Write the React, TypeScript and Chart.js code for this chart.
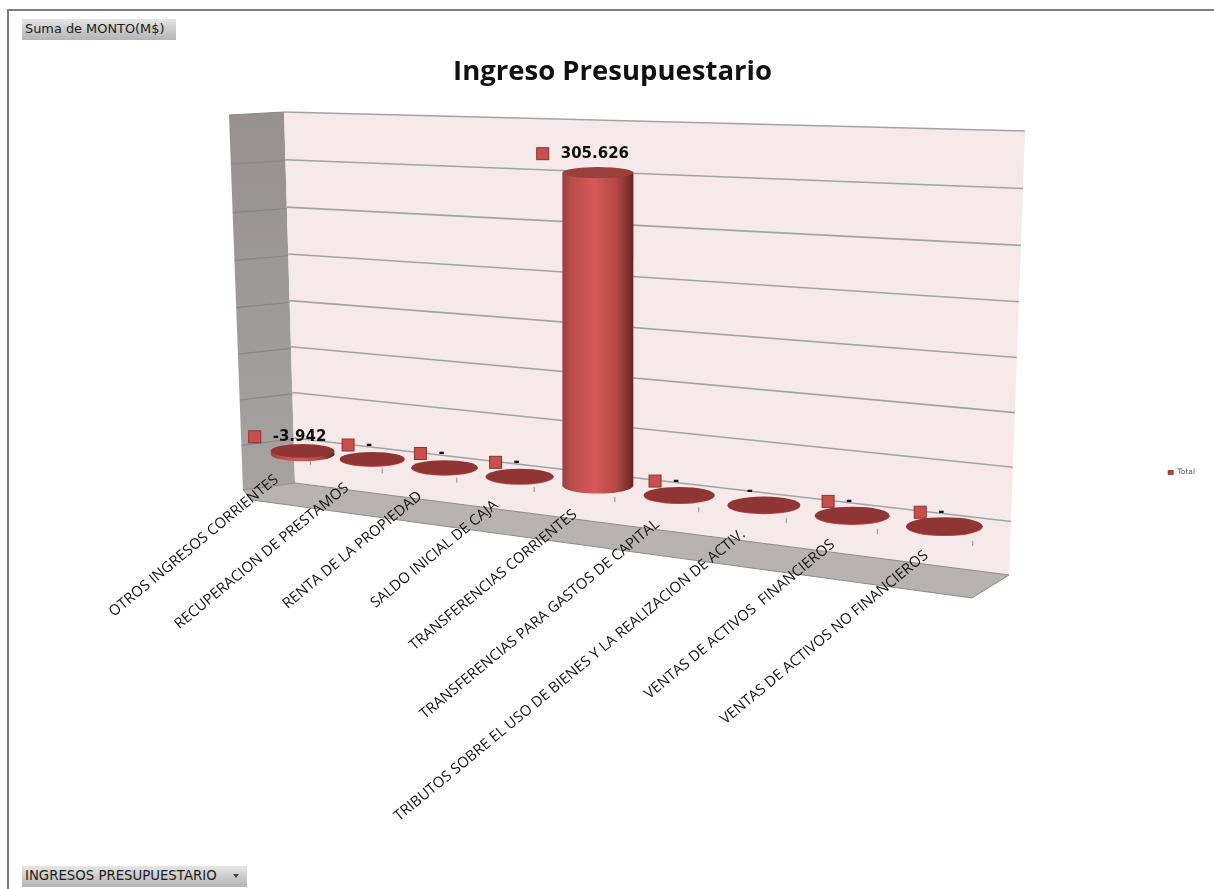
import React, { useEffect, useRef } from "react";
import { Chart, registerables } from "chart.js";

Chart.register(...registerables);

const categories = [
  "OTROS INGRESOS CORRIENTES",
  "RECUPERACION DE PRESTAMOS",
  "RENTA DE LA PROPIEDAD",
  "SALDO INICIAL DE CAJA",
  "TRANSFERENCIAS CORRIENTES",
  "TRANSFERENCIAS PARA GASTOS DE CAPITAL",
  "TRIBUTOS SOBRE EL USO DE BIENES Y LA REALIZACION DE ACTIV.",
  "VENTAS DE ACTIVOS  FINANCIEROS",
  "VENTAS DE ACTIVOS NO FINANCIEROS",
];
const montos = [-3942, 0, 0, 0, 305626, 0, 0, 0, 0];
const showKey = [true, true, true, true, true, true, false, true, true];
const seriesName = "Total";
const chartTitle = "Ingreso Presupuestario";
const axisMin = -50000;
const axisMax = 350000;
const axisStep = 50000;

type Pt = [number, number];
type Quad = [Pt, Pt, Pt, Pt];

const WALL: Quad = [[284, 112], [1025, 131], [1009, 575], [295, 483]];
const SIDE: Quad = [[229, 115], [284, 112], [295, 483], [243, 490]];
const FLOOR: Pt[] = [[243, 490], [295, 483], [1009, 575], [972, 598], [252, 500]];

function homography(q: Quad) {
  const [[x0, y0], [x1, y1], [x2, y2], [x3, y3]] = q;
  const dx1 = x1 - x2, dx2 = x3 - x2, sx = x0 - x1 + x2 - x3;
  const dy1 = y1 - y2, dy2 = y3 - y2, sy = y0 - y1 + y2 - y3;
  const den = dx1 * dy2 - dx2 * dy1;
  const g = (sx * dy2 - dx2 * sy) / den;
  const h = (dx1 * sy - sx * dy1) / den;
  const a = x1 - x0 + g * x1, b = x3 - x0 + h * x3;
  const d = y1 - y0 + g * y1, e = y3 - y0 + h * y3;
  return (u: number, v: number): Pt => {
    const w = g * u + h * v + 1;
    return [(a * u + b * v + x0) / w, (d * u + e * v + y0) / w];
  };
}

function shifted(l: Pt, r: Pt, topLift = 0): Quad {
  return [
    [WALL[0][0] + l[0], WALL[0][1] + l[1] - topLift],
    [WALL[1][0] + r[0], WALL[1][1] + r[1] - topLift],
    [WALL[2][0] + r[0], WALL[2][1] + r[1]],
    [WALL[3][0] + l[0], WALL[3][1] + l[1]],
  ];
}

const wallMap = homography(WALL);
const sideMap = homography(SIDE);
const barMap = homography(shifted([-25, 9.5], [-19, 11], 5));
const tickMap = homography(shifted([-18, 20], [11, 28]));
const labelMap = homography(shifted([-57, 29], [-42, 31]));

function poly(ctx: CanvasRenderingContext2D, pts: Pt[]) {
  ctx.beginPath();
  pts.forEach((p, i) => (i ? ctx.lineTo(p[0], p[1]) : ctx.moveTo(p[0], p[1])));
  ctx.closePath();
}

const formatValue = (v: number) =>
  v === 0 ? "-" : (v < 0 ? "-" : "") + String(Math.abs(v)).replace(/\B(?=(\d{3})+(?!\d))/g, ".");

const perspectivePlugin = {
  id: "perspective",
  beforeDraw(chart: any) {
    const { ctx, chartArea: area, scales } = chart;
    const nv = (py: number) => (py - area.top) / area.height;
    const nu = (px: number) => (px - area.left) / area.width;

    ctx.save();
    const sideGrad = ctx.createLinearGradient(0, 115, 0, 490);
    sideGrad.addColorStop(0, "#969090");
    sideGrad.addColorStop(1, "#a8a3a3");
    ctx.fillStyle = sideGrad;
    poly(ctx, SIDE);
    ctx.fill();
    ctx.fillStyle = "#f5e9e9";
    poly(ctx, WALL);
    ctx.fill();
    ctx.fillStyle = "#b8b2b2";
    poly(ctx, FLOOR);
    ctx.fill();
    ctx.strokeStyle = "#8f8b8b";
    ctx.lineWidth = 1;
    poly(ctx, FLOOR);
    ctx.stroke();

    for (const t of scales.y.ticks) {
      const v = nv(scales.y.getPixelForValue(t.value));
      if (v > 0.999) continue;
      ctx.strokeStyle = "#8a8686";
      ctx.lineWidth = 1.2;
      ctx.beginPath();
      ctx.moveTo(...sideMap(0, v));
      ctx.lineTo(...sideMap(1, v));
      ctx.stroke();
      ctx.strokeStyle = "#a3a3a3";
      ctx.lineWidth = 1.6;
      ctx.beginPath();
      ctx.moveTo(...wallMap(0, v));
      ctx.lineTo(...wallMap(1, v));
      ctx.stroke();
    }
    ctx.restore();

    // seat the real axis labels on the receding floor edge
    const zeroV = nv(scales.y.getPixelForValue(0));
    for (const item of scales.x.getLabelItems()) {
      const idx = item.label ? categories.indexOf(item.label) : -1;
      if (idx < 0) continue;
      const p = labelMap(nu(scales.x.getPixelForTick(idx)), zeroV);
      item.options.translation = [p[0], p[1]];
    }
  },
  beforeDatasetDraw(chart: any, args: any) {
    const { ctx, chartArea: area, scales } = chart;
    const nv = (py: number) => (py - area.top) / area.height;
    const nu = (px: number) => (px - area.left) / area.width;
    const zeroV = nv(scales.y.getPixelForValue(0));
    const meta = args.meta;

    ctx.save();
    // axis tick marks
    ctx.strokeStyle = "#8c8c8c";
    ctx.lineWidth = 1;
    scales.x.ticks.forEach((_: any, i: number) => {
      const p = tickMap(nu(scales.x.getPixelForTick(i)), zeroV);
      ctx.beginPath();
      ctx.moveTo(p[0], p[1] - 2.5);
      ctx.lineTo(p[0], p[1] + 2.5);
      ctx.stroke();
    });

    meta.data.forEach((el: any) => {
      const { x, y, base, width } = el.getProps(["x", "y", "base", "width"], true);
      const u = nu(x);
      const upperPx = Math.min(y, base);
      const lowerPx = Math.max(y, base);
      const upperV = nv(upperPx);
      const lowerV = nv(lowerPx);
      const U = barMap(u, upperV);
      const L = barMap(u, lowerV);
      const a = barMap(nu(x - width / 2), upperV);
      const b = barMap(nu(x + width / 2), upperV);
      const rx = (Math.hypot(b[0] - a[0], b[1] - a[1]) / 2) * (0.93 - 0.13 * u);
      const tilt = (v: number) => 0.135 + 0.09 * v + 0.025 * u;
      const ryU = rx * tilt(upperV);
      const ryL = rx * tilt(lowerV);

      const grad = ctx.createLinearGradient(L[0] - rx, 0, L[0] + rx, 0);
      grad.addColorStop(0, "#96403e");
      grad.addColorStop(0.12, "#b94c4a");
      grad.addColorStop(0.45, "#d35a58");
      grad.addColorStop(0.75, "#b64846");
      grad.addColorStop(0.93, "#7c2f2d");
      grad.addColorStop(1, "#642522");

      // body and rounded bottom
      ctx.fillStyle = lowerPx - upperPx < 1 ? "#c24c4a" : grad;
      ctx.beginPath();
      ctx.ellipse(L[0], L[1] + (lowerPx - upperPx < 1 ? 0.8 : 0), rx, ryL, 0, 0, Math.PI * 2);
      ctx.fill();
      if (lowerPx > upperPx) {
        ctx.beginPath();
        ctx.moveTo(U[0] - rx, U[1]);
        ctx.lineTo(U[0] + rx, U[1]);
        ctx.lineTo(L[0] + rx, L[1]);
        ctx.lineTo(L[0] - rx, L[1]);
        ctx.closePath();
        ctx.fill();
      }
      // cap
      ctx.fillStyle = lowerPx - upperPx > 20 ? "#9b3f3d" : "#8f3634";
      ctx.beginPath();
      ctx.ellipse(U[0], U[1], rx, ryU, 0, 0, Math.PI * 2);
      ctx.fill();
    });
    ctx.restore();
    return false;
  },
  afterDatasetsDraw(chart: any) {
    const { ctx, chartArea: area } = chart;
    const nv = (py: number) => (py - area.top) / area.height;
    const nu = (px: number) => (px - area.left) / area.width;
    const meta = chart.getDatasetMeta(0);
    ctx.save();
    ctx.font = "bold 15px 'DejaVu Sans'";
    ctx.textBaseline = "middle";
    ctx.textAlign = "left";
    meta.data.forEach((el: any, i: number) => {
      const { x, y, base } = el.getProps(["x", "y", "base"], true);
      const value = montos[i];
      const top = barMap(nu(x), nv(Math.min(y, base)));
      const text = formatValue(value);
      const w = ctx.measureText(text).width;
      const lift = value > 1000 ? 19 : 14;
      const cx = top[0] - (showKey[i] ? 3 : 14);
      const cy = top[1] - lift;
      ctx.fillStyle = "#111";
      ctx.fillText(text, cx - w / 2, cy);
      if (showKey[i]) {
        const kx = cx - w / 2 - 18;
        ctx.fillStyle = "#c94f4d";
        ctx.strokeStyle = "#8a3533";
        ctx.lineWidth = 1;
        ctx.fillRect(kx - 6, cy - 6, 12, 12);
        ctx.strokeRect(kx - 6, cy - 6, 12, 12);
      }
    });
    ctx.restore();
  },
};

const buttonStyle = (left: number, top: number, width: number, size: number): React.CSSProperties => ({
  position: "absolute",
  left,
  top,
  width,
  height: 21,
  boxSizing: "border-box",
  paddingLeft: 3,
  font: `${size}px/20px 'DejaVu Sans'`,
  color: "#1c1c1c",
  background: "linear-gradient(to bottom, #e6e6e6, #c9c9c9 55%, #b5b5b5)",
  whiteSpace: "nowrap",
});

export default function App() {
  const ref = useRef<HTMLCanvasElement>(null);
  useEffect(() => {
    document.body.style.background = "#fff";
    const chart = new Chart(ref.current!, {
      type: "bar",
      data: {
        labels: categories,
        datasets: [
          {
            label: seriesName,
            data: montos,
            backgroundColor: "#b5403e",
            barPercentage: 1,
            categoryPercentage: 1,
          },
        ],
      },
      options: {
        responsive: false,
        animation: false,
        layout: { padding: { top: 56, left: 20, right: 9, bottom: 0 } },
        plugins: {
          tooltip: { enabled: false },
          title: {
            display: true,
            text: chartTitle,
            color: "#111",
            font: { family: "'Open Sans'", size: 27.5, weight: "bold" },
            padding: { top: 0, bottom: 36 },
          },
          legend: {
            position: "right",
            labels: {
              boxWidth: 6,
              boxHeight: 5,
              padding: 2,
              color: "#555",
              font: { family: "'DejaVu Sans'", size: 7.5 },
            },
          },
        },
        scales: {
          x: {
            grid: { display: false },
            border: { display: false },
            afterFit: (s: any) => {
              s.height = 470;
            },
            ticks: {
              autoSkip: false,
              minRotation: 39.5,
              maxRotation: 39.5,
              color: "#111",
              font: { family: "'Open Sans'", size: 14.8 },
            },
          },
          y: {
            display: false,
            min: axisMin,
            max: axisMax,
            ticks: { stepSize: axisStep },
          },
        },
      },
      plugins: [perspectivePlugin],
    } as any);
    return () => chart.destroy();
  }, []);

  return (
    <div style={{ position: "absolute", left: 0, top: 0, width: 1214, height: 889, overflow: "hidden", background: "#fff" }}>
      <canvas ref={ref} width={1214} height={889} style={{ position: "absolute", left: 0, top: 0 }} />
      <div style={{ position: "absolute", left: 7, top: 9, width: 1207, height: 880, boxSizing: "border-box", borderLeft: "2px solid #7d7d7d", borderTop: "2px solid #7d7d7d" }} />
      <div style={buttonStyle(22, 19, 154, 12.9)}>Suma de MONTO(M$)</div>
      <div style={buttonStyle(22, 866, 225, 13.3)}>
        INGRESOS PRESUPUESTARIO
        <span style={{ position: "absolute", right: 8, top: 8, width: 0, height: 0, borderLeft: "3px solid transparent", borderRight: "3px solid transparent", borderTop: "4px solid #444" }} />
      </div>
    </div>
  );
}
